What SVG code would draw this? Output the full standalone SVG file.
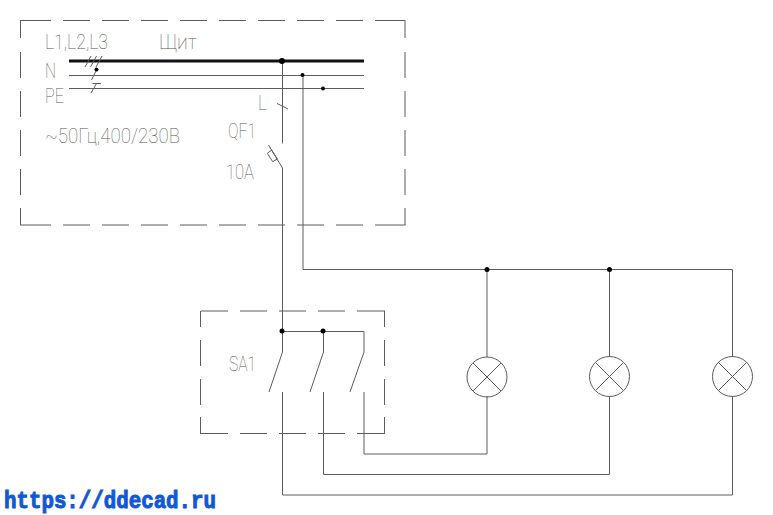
<svg xmlns="http://www.w3.org/2000/svg" width="773" height="515" viewBox="0 0 773 515">
<style>
.w{fill:none;stroke:#5c5c5c;stroke-width:1}
.l{font-family:Roboto,"Liberation Sans",Arial,sans-serif;font-size:21px;font-weight:100;fill:#555}
.dot{fill:#000}
</style>
<rect width="773" height="515" fill="#fff"/>
<g id="panel"><path class="w" d="M20 20.500H51M63 20.500H90M102 20.500H129M141 20.500H168M180 20.500H207M219 20.500H246M258 20.500H285M297 20.500H324M336 20.500H363M375 20.500H405
M20 225H51M63 225H90M102 225H129M141 225H168M180 225H207M219 225H246M258 225H285M297 225H324M336 225H363M375 225H405.500
M20.500 20V38M20.500 52V78M20.500 91V117M20.500 130V156M20.500 169V195M20.500 208V225
M405 20V38M405 52V78M405 91V117M405 130V156M405 169V195M405 208V225"/></g>
<g id="switchbox"><path class="w" d="M201 311H228M240 311H267M279 311H306M318 311H345M357 311H385
M201 433.500H228M240 433.500H267M279 433.500H306M318 433.500H345M357 433.500H385
M200.500 311V327M200.500 340V366M200.500 379V405M200.500 417V434
M384.500 311V327M384.500 340V366M384.500 379V405M384.500 417V434"/></g>
<g id="connectors">
<path d="M69 61H364" fill="none" stroke="#111" stroke-width="3"/>
<path class="w" d="M69 75.500H364M69 88.500H364"/>
<path class="w" d="M85 67L91 56M90.500 67L96.500 56M96 67L102 56M91.500 80L97 69M91 93L96.500 83.500M92.500 83.500H101"/>
<path class="w" d="M282.500 61V143.500M277 103.500L288 109M282.500 168V352M282.500 168L268.500 145M267.300 153.300L272.700 161.700L277.300 159L271.700 150Z"/>
<path class="w" d="M303 75V269.500H732.500V357M487 269V357M609.500 269V357"/>
<path class="w" d="M282 331.500H364V352M323.500 331V352"/>
<path class="w" d="M282.500 352L269 392M323.500 352L310 392M364 352L350 392"/>
<path class="w" d="M282.500 392V495H732.500V396M323.500 392V474.500H609.500V396M364 392V454H487V396"/>
</g>
<g id="dots">
<circle class="dot" cx="282" cy="61" r="3"/><circle class="dot" cx="302.500" cy="75" r="2"/><circle class="dot" cx="323" cy="88.500" r="2"/><circle class="dot" cx="96.500" cy="69.500" r="2"/>
<circle class="dot" cx="487" cy="269.500" r="2.500"/><circle class="dot" cx="609.500" cy="269.500" r="2.500"/><circle class="dot" cx="282" cy="331" r="2.500"/><circle class="dot" cx="323" cy="331" r="2.500"/>
</g>
<g id="lamp1"><circle class="w" cx="487" cy="377" r="20"/><path class="w" d="M473 363L501 391M501 363L473 391"/></g>
<g id="lamp2"><circle class="w" cx="609.500" cy="376.500" r="20"/><path class="w" d="M595.500 362.500L623.500 390.500M623.500 362.500L595.500 390.500"/></g>
<g id="lamp3"><circle class="w" cx="732.500" cy="376.500" r="20"/><path class="w" d="M718.500 362.500L746.500 390.500M746.500 362.500L718.500 390.500"/></g>
<g id="labels">
<text class="l" x="45" y="49" textLength="63" lengthAdjust="spacingAndGlyphs">L1,L2,L3</text>
<text class="l" x="159" y="49" textLength="38" lengthAdjust="spacingAndGlyphs">Щит</text>
<text class="l" x="45" y="78" textLength="11" lengthAdjust="spacingAndGlyphs">N</text>
<text class="l" x="45" y="103" textLength="19" lengthAdjust="spacingAndGlyphs">PE</text>
<text class="l" x="45" y="143" textLength="135" lengthAdjust="spacingAndGlyphs">~50Гц,400/230В</text>
<text class="l" x="258" y="110" textLength="9" lengthAdjust="spacingAndGlyphs">L</text>
<text class="l" x="228" y="138" textLength="28" lengthAdjust="spacingAndGlyphs">QF1</text>
<text class="l" x="226" y="179" textLength="28" lengthAdjust="spacingAndGlyphs">10А</text>
<text class="l" x="229" y="371" textLength="27" lengthAdjust="spacingAndGlyphs">SA1</text>
<text x="4" y="508" font-family="'Liberation Mono',monospace" font-weight="bold" font-size="24" fill="#1158d6" stroke="#1158d6" stroke-width="1" textLength="212" lengthAdjust="spacingAndGlyphs">https://ddecad.ru</text>
</g>
</svg>
